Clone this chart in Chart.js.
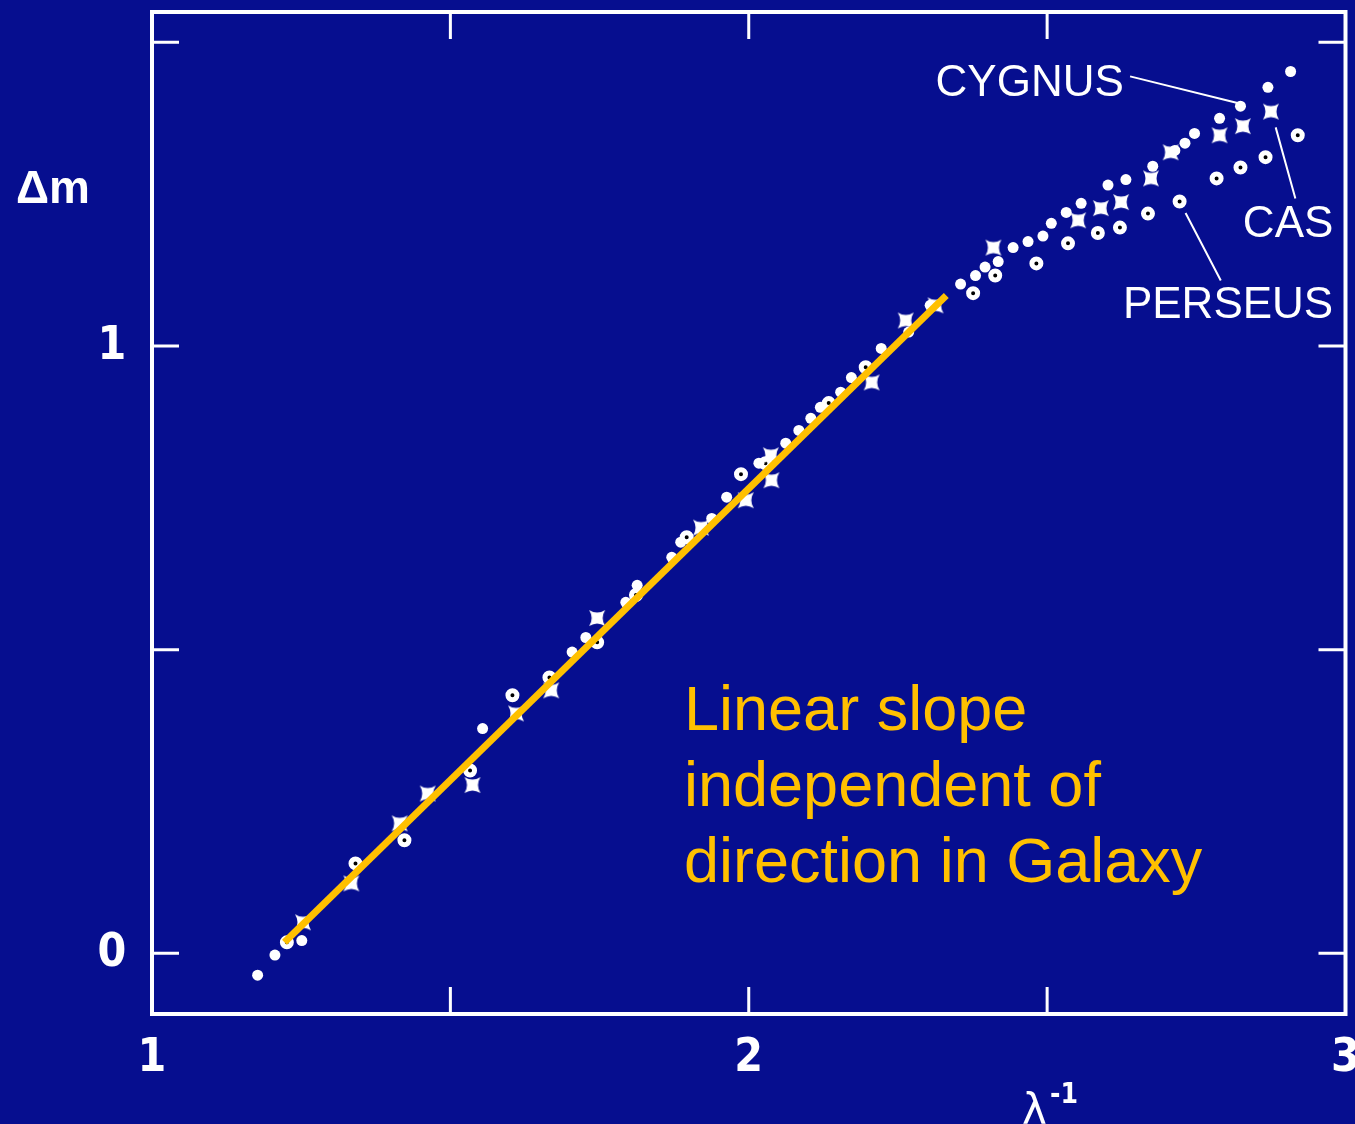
<!DOCTYPE html>
<html>
<head>
<meta charset="utf-8">
<script src="https://cdn.jsdelivr.net/npm/chart.js@4.4.1/dist/chart.umd.min.js"></script>
<style>
  html, body { margin: 0; padding: 0; background: #060E8F; overflow: hidden; }
  canvas { display: block; }
</style>
</head>
<body>
<canvas id="chart" width="1355" height="1124"></canvas>
<script>
// Interstellar extinction: colour excess Δm against inverse wavelength λ⁻¹

// Filled dots
const dotPoints = [
  [1.177, -0.036], [1.206, -0.003], [1.251, 0.021], [1.554, 0.370],
  [1.704, 0.496], [1.727, 0.520], [1.794, 0.578], [1.813, 0.606],
  [1.871, 0.652], [1.886, 0.677], [1.938, 0.716], [1.963, 0.751],
  [2.017, 0.807], [2.062, 0.840], [2.084, 0.861], [2.104, 0.881],
  [2.120, 0.899], [2.154, 0.924], [2.172, 0.948], [2.222, 0.996],
  [2.268, 1.023], [2.304, 1.067], [2.355, 1.102], [2.380, 1.116],
  [2.396, 1.130], [2.418, 1.139], [2.443, 1.162], [2.468, 1.172],
  [2.493, 1.181], [2.507, 1.202], [2.532, 1.220], [2.557, 1.235],
  [2.602, 1.265], [2.632, 1.274], [2.677, 1.296], [2.714, 1.322],
  [2.731, 1.334], [2.747, 1.350], [2.789, 1.375], [2.824, 1.395],
  [2.870, 1.426], [2.908, 1.452]
];

// Crosses
const crossPoints = [
  [1.253, 0.051], [1.334, 0.115], [1.415, 0.214], [1.462, 0.263],
  [1.537, 0.277], [1.610, 0.395], [1.669, 0.433], [1.746, 0.552],
  [1.920, 0.701], [1.995, 0.746], [2.037, 0.820], [2.038, 0.779],
  [2.206, 0.940], [2.263, 1.042], [2.313, 1.067], [2.410, 1.162],
  [2.552, 1.207], [2.590, 1.227], [2.624, 1.237], [2.674, 1.276],
  [2.707, 1.319], [2.789, 1.347], [2.828, 1.362], [2.875, 1.386]
];

// Open circles
const circlePoints = [
  [1.226, 0.018], [1.341, 0.148], [1.423, 0.186], [1.533, 0.301],
  [1.604, 0.425], [1.666, 0.454], [1.746, 0.512], [1.811, 0.590],
  [1.896, 0.685], [1.987, 0.789], [2.028, 0.807], [2.134, 0.906],
  [2.196, 0.965], [2.376, 1.087], [2.413, 1.116], [2.482, 1.136],
  [2.535, 1.169], [2.585, 1.186], [2.622, 1.195], [2.669, 1.218],
  [2.722, 1.238], [2.784, 1.276], [2.824, 1.294], [2.866, 1.311],
  [2.920, 1.347]
];

// Straight-line fit through the linear part
const fitLine = [[1.222, 0.018], [2.331, 1.083]];

// Axes
const xRange = [1, 3];
const yRange = [-0.1, 1.55];
const xTickLabels = [1, 2, 3];
const yTickLabels = [0, 1];
const xTickMarks = [1.5, 2, 2.5];
const yTickMarks = [0, 0.5, 1, 1.5];

// Region names with their pointer lines (text anchor, line start, line end)
const regionNames = ['CYGNUS', 'CAS', 'PERSEUS'];
const regionAnchors = [[2.313, 1.411], [2.828, 1.179], [2.627, 1.046]];
const regionPointers = [
  [[2.639, 1.444], [2.819, 1.400]],
  [[2.883, 1.360], [2.916, 1.243]],
  [[2.732, 1.219], [2.791, 1.108]]
];

const noteLines = ['Linear slope', 'independent of', 'direction in Galaxy'];

const BG = '#060E8F';
const INK = '#FFFFFF';
const GOLD = '#FFC000';

const toXY = arr => arr.map(([x, y]) => ({ x, y }));

function crossMarker() {
  const s = 20, c = 10, a = 8, k = 3;
  const cv = document.createElement('canvas');
  cv.width = s; cv.height = s;
  const g = cv.getContext('2d');
  g.fillStyle = INK;
  g.beginPath();
  g.moveTo(c - a, c - a);
  g.quadraticCurveTo(c, c - k, c + a, c - a);
  g.quadraticCurveTo(c + k, c, c + a, c + a);
  g.quadraticCurveTo(c, c + k, c - a, c + a);
  g.quadraticCurveTo(c - k, c, c - a, c - a);
  g.closePath();
  g.fill();
  return cv;
}

const decor = {
  id: 'decor',
  beforeDraw(chart) {
    const ctx = chart.ctx;
    ctx.save();
    ctx.fillStyle = BG;
    ctx.fillRect(0, 0, chart.width, chart.height);
    ctx.restore();
  },
  beforeDatasetsDraw(chart) {
    const { ctx, chartArea: a, scales: { x, y } } = chart;
    ctx.save();
    ctx.strokeStyle = INK;
    ctx.lineWidth = 4;
    ctx.lineJoin = 'miter';
    ctx.strokeRect(a.left, a.top, a.right - a.left, a.bottom - a.top);
    ctx.lineWidth = 3;
    const tl = 27;
    ctx.beginPath();
    xTickMarks.forEach(v => {
      const px = x.getPixelForValue(v);
      ctx.moveTo(px, a.bottom); ctx.lineTo(px, a.bottom - tl);
      ctx.moveTo(px, a.top); ctx.lineTo(px, a.top + tl);
    });
    yTickMarks.forEach(v => {
      const py = y.getPixelForValue(v);
      ctx.moveTo(a.left, py); ctx.lineTo(a.left + tl, py);
      ctx.moveTo(a.right, py); ctx.lineTo(a.right - tl, py);
    });
    ctx.stroke();
    ctx.restore();
  },
  afterDraw(chart) {
    const { ctx, chartArea: a, scales: { x, y } } = chart;
    ctx.save();
    ctx.fillStyle = INK;
    ctx.strokeStyle = INK;

    // tick labels
    ctx.font = 'bold 46px "Liberation Sans Narrow", "DejaVu Sans Condensed", sans-serif';
    ctx.textAlign = 'center';
    ctx.textBaseline = 'middle';
    xTickLabels.forEach(v => {
      ctx.fillText(String(v), x.getPixelForValue(v), a.bottom + 45);
    });
    yTickLabels.forEach(v => {
      ctx.fillText(String(v), a.left - 40, y.getPixelForValue(v) + 1);
    });

    // axis titles
    ctx.textAlign = 'left';
    ctx.textBaseline = 'alphabetic';
    ctx.font = 'bold 46px "Liberation Sans", Arial, sans-serif';
    ctx.fillText('Δm', 16, 203);
    ctx.font = '42px "DejaVu Sans", sans-serif';
    ctx.fillText('λ', 1022, 1124);
    ctx.font = 'bold 28px "Liberation Sans Narrow", "DejaVu Sans Condensed", sans-serif';
    ctx.fillText('-1', 1050, 1103);

    // region names and pointers
    ctx.font = '44px "Liberation Sans", Arial, sans-serif';
    regionNames.forEach((name, i) => {
      const [ax, ay] = regionAnchors[i];
      ctx.fillText(name, x.getPixelForValue(ax), y.getPixelForValue(ay));
    });
    ctx.lineWidth = 2;
    ctx.beginPath();
    regionPointers.forEach(([p0, p1]) => {
      ctx.moveTo(x.getPixelForValue(p0[0]), y.getPixelForValue(p0[1]));
      ctx.lineTo(x.getPixelForValue(p1[0]), y.getPixelForValue(p1[1]));
    });
    ctx.stroke();

    // note
    ctx.fillStyle = GOLD;
    ctx.font = '63px "Liberation Sans", Arial, sans-serif';
    noteLines.forEach((t, i) => ctx.fillText(t, 684, 730 + i * 76));
    ctx.restore();
  }
};

new Chart(document.getElementById('chart'), {
  type: 'scatter',
  data: {
    datasets: [
      {
        type: 'line',
        label: 'fit',
        data: toXY(fitLine),
        borderColor: GOLD,
        borderWidth: 7,
        borderCapStyle: 'butt',
        pointRadius: 0,
        fill: false,
        order: 0
      },
      {
        label: 'dots',
        data: toXY(dotPoints),
        pointStyle: 'circle',
        pointRadius: 5.5,
        backgroundColor: INK,
        borderColor: INK,
        borderWidth: 0,
        order: 1
      },
      {
        label: 'crosses',
        data: toXY(crossPoints),
        pointStyle: crossMarker(),
        pointRadius: 8,
        order: 2
      },
      {
        label: 'circles',
        data: toXY(circlePoints),
        pointStyle: 'circle',
        pointRadius: 4.5,
        backgroundColor: '#000000',
        borderColor: INK,
        borderWidth: 5,
        order: 3
      }
    ]
  },
  options: {
    responsive: false,
    animation: false,
    devicePixelRatio: 1,
    layout: { padding: { left: 152, right: 7, top: 12, bottom: 110 } },
    plugins: { legend: { display: false }, tooltip: { enabled: false } },
    scales: {
      x: { type: 'linear', min: xRange[0], max: xRange[1], display: false },
      y: { type: 'linear', min: yRange[0], max: yRange[1], display: false }
    }
  },
  plugins: [decor]
});
</script>
</body>
</html>
